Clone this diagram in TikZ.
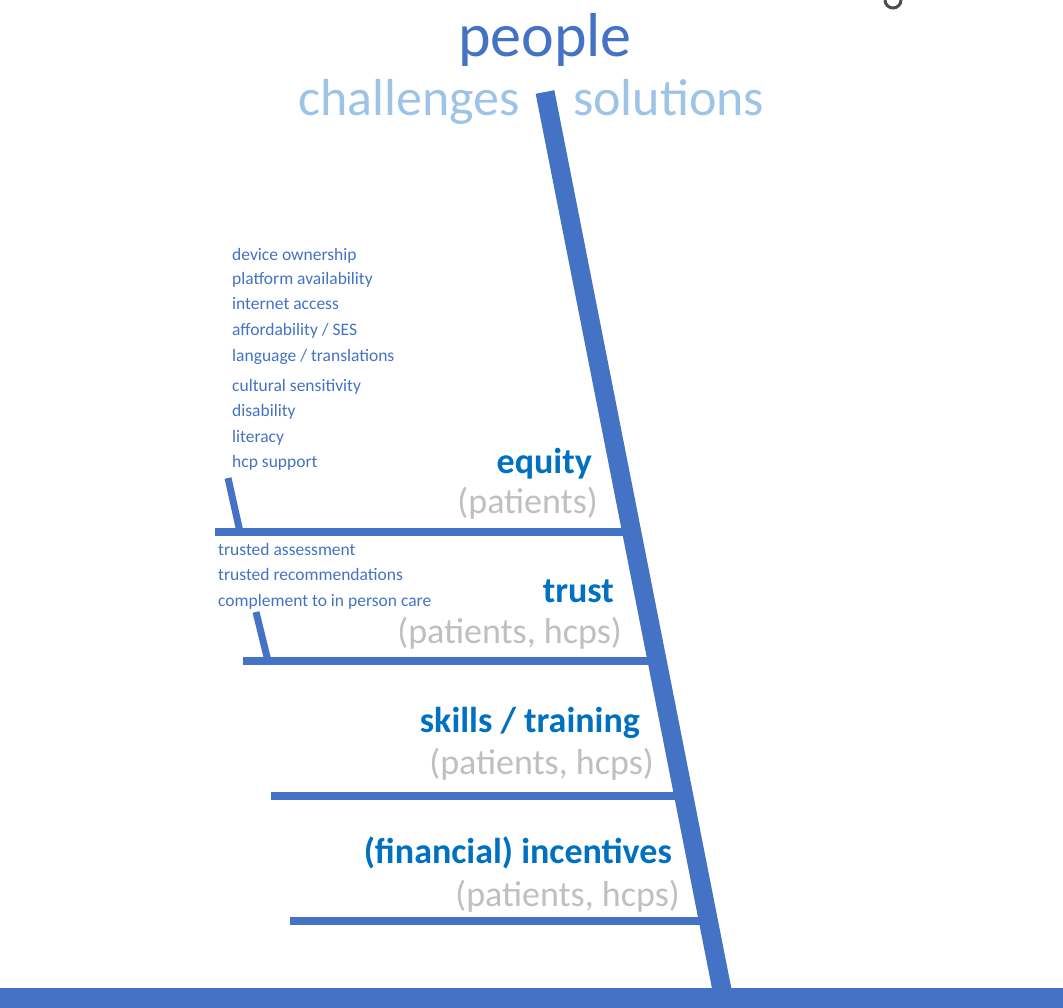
\documentclass[tikz,border=0pt]{standalone}
\usepackage{fontspec}
\setmainfont{Carlito}
\definecolor{spineblue}{RGB}{68,114,196}
\definecolor{headblue}{RGB}{0,112,192}
\definecolor{lightblue}{RGB}{157,195,230}
\definecolor{labelgray}{RGB}{191,191,191}
\begin{document}
\begin{tikzpicture}[x=1pt,y=-1pt,
    bone/.style={spineblue,line width=8pt},
    item/.style={anchor=base west,inner sep=0pt,text=spineblue,font=\fontsize{17.5}{17.5}\selectfont},
    head/.style={anchor=base east,inner sep=0pt,text=headblue,font=\fontsize{36}{36}\selectfont\bfseries},
    who/.style={anchor=base east,inner sep=0pt,text=labelgray,font=\fontsize{36}{36}\selectfont}]
  \useasboundingbox (0,0) rectangle (1063,1008);
  \coordinate (top) at (545,92);
  \coordinate (foot) at (722,990);
  \coordinate (left) at (0,998);
  \coordinate (right) at (1063,998);
  \draw (545,57) node[anchor=base,inner sep=0pt,text=spineblue,font=\fontsize{62}{62}\selectfont] (title){people}
    (520,116) node[anchor=base east,inner sep=0pt,text=lightblue,font=\fontsize{52}{52}\selectfont] (chal){challenges}
    (573,116) node[anchor=base west,inner sep=0pt,text=lightblue,font=\fontsize{52}{52}\selectfont] (sol){solutions};
  \draw (232,261) node[item] (i1){device ownership}
    (232,285) node[item] (i2){platform availability}
    (232,310) node[item] (i3){internet access}
    (232,336) node[item] (i4){affordability / SES}
    (232,361) node[item] (i5){language / translations}
    (232,391) node[item] (i6){cultural sensitivity}
    (232,416) node[item] (i7){disability}
    (232,442) node[item] (i8){literacy}
    (232,467) node[item] (i9){hcp support};
  \draw (218,555) node[item] (t1){trusted assessment}
    (218,580) node[item] (t2){trusted recommendations}
    (218,606) node[item] (t3){complement to in person care};
  \draw (592,473) node[head] (equity){equity}
    (598,513) node[who] (equitywho){(patients)}
    (614,602) node[head] (trust){trust}
    (622,643) node[who] (trustwho){(patients, hcps)}
    (640,732) node[head] (skills){skills / training}
    (654,774) node[who] (skillswho){(patients, hcps)}
    (672,863) node[head] (money){(financial) incentives}
    (680,906) node[who] (moneywho){(patients, hcps)};
  % ribs
  \coordinate (r1) at (215,532);
  \coordinate (s1) at (632,532);
  \coordinate (r2) at (243,661);
  \coordinate (s2) at (657,661);
  \coordinate (r3) at (271,796);
  \coordinate (s3) at (684,796);
  \coordinate (r4) at (290,921);
  \coordinate (s4) at (708,921);
  \coordinate (b1) at (228,478);
  \coordinate (c1) at (240,532);
  \coordinate (b2) at (256,612);
  \coordinate (c2) at (268,661);
  \begin{scope}[bone]
    \draw (r1) to (s1);
    \draw (r2) to (s2);
    \draw (r3) to (s3);
    \draw (r4) to (s4);
    \draw[line width=7pt] (b1) to (c1);
    \draw[line width=7pt] (b2) to (c2);
    \draw[line width=19pt] (top) to (foot);
    \draw[line width=20pt] (left) to (right);
  \end{scope}
  \draw[black!70,line width=3pt] (885,0) arc (180:0:8);
\end{tikzpicture}
\end{document}
